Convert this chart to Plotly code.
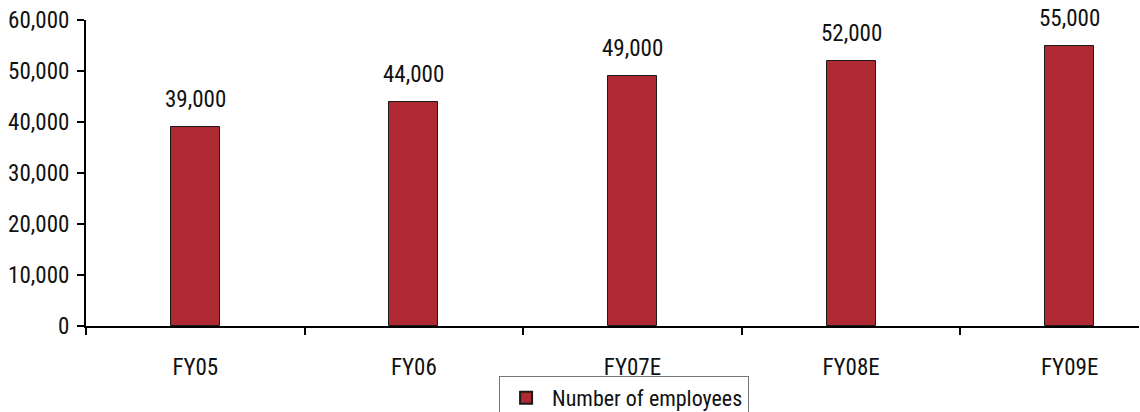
import plotly.graph_objects as go

# Headcount by fiscal year (E = estimate)
years = ["FY05", "FY06", "FY07E", "FY08E", "FY09E"]
employees = [39000, 44000, 49000, 52000, 55000]
y_ticks = [0, 10000, 20000, 30000, 40000, 50000, 60000]

FONT = "Liberation Sans Narrow, Arial Narrow, Roboto Condensed, sans-serif"
BAR_RED = "#AE2931"
FS = 23

fig = go.Figure()
fig.add_trace(go.Bar(
    x=years,
    y=employees,
    name="Number of employees",
    marker=dict(color=BAR_RED, line=dict(color="#1a1a1a", width=1)),
    width=0.224,
))

# value labels floating above each bar
for yr, v in zip(years, employees):
    fig.add_annotation(
        x=yr, y=v, text=f"{v:,}", showarrow=False,
        yanchor="bottom", yshift=12,
        font=dict(size=FS, color="#111111", family=FONT),
    )

fig.update_layout(
    width=1140,
    height=412,
    margin=dict(l=86, r=1, t=20, b=86, autoexpand=False),
    paper_bgcolor="white",
    plot_bgcolor="white",
    font=dict(family=FONT, size=FS, color="#111111"),
    showlegend=True,
    legend=dict(
        orientation="h",
        x=0.511, xanchor="center",
        y=-0.163, yanchor="top",
        bordercolor="#777777", borderwidth=1,
        font=dict(size=22, family=FONT),
        itemsizing="constant",
        itemwidth=42,
    ),
    xaxis=dict(
        type="category",
        range=[-0.5, 4.317],
        tickson="boundaries",
        ticks="outside",
        ticklen=7,
        tickwidth=2,
        tickcolor="black",
        showline=True,
        linecolor="black",
        linewidth=2,
        showgrid=False,
        tickfont=dict(size=FS),
        ticklabelstandoff=19,
        automargin=False,
    ),
    yaxis=dict(
        range=[0, 60000],
        tickvals=y_ticks,
        ticktext=[f"{v:,}" for v in y_ticks],
        ticks="outside",
        ticklen=7,
        tickwidth=2,
        tickcolor="black",
        showline=True,
        linecolor="black",
        linewidth=2,
        showgrid=False,
        zeroline=False,
        tickfont=dict(size=FS),
        ticklabelstandoff=3,
        automargin=False,
    ),
    bargap=0,
)

fig.write_html("out.html")
